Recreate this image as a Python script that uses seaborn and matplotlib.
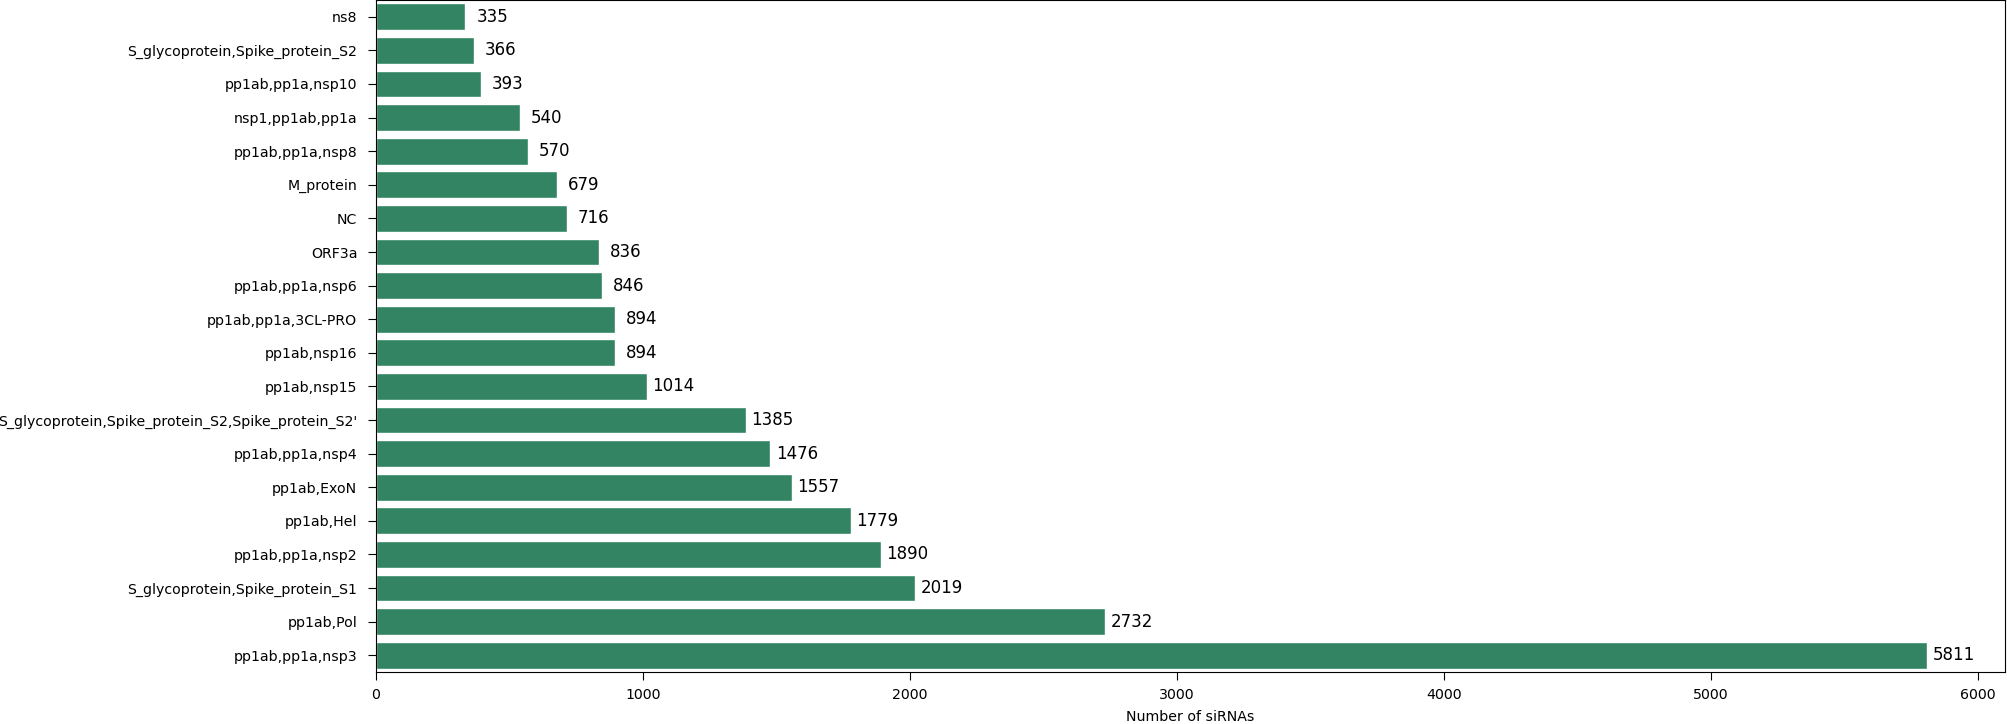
import pandas as pd
import matplotlib
matplotlib.use("Agg")
import matplotlib.pyplot as plt
import seaborn as sns

# Data (top to bottom)
proteins = [
    "ns8",
    "S_glycoprotein,Spike_protein_S2",
    "pp1ab,pp1a,nsp10",
    "nsp1,pp1ab,pp1a",
    "pp1ab,pp1a,nsp8",
    "M_protein",
    "NC",
    "ORF3a",
    "pp1ab,pp1a,nsp6",
    "pp1ab,pp1a,3CL-PRO",
    "pp1ab,nsp16",
    "pp1ab,nsp15",
    "S_glycoprotein,Spike_protein_S2,Spike_protein_S2'",
    "pp1ab,pp1a,nsp4",
    "pp1ab,ExoN",
    "pp1ab,Hel",
    "pp1ab,pp1a,nsp2",
    "S_glycoprotein,Spike_protein_S1",
    "pp1ab,Pol",
    "pp1ab,pp1a,nsp3",
]
counts = [335, 366, 393, 540, 570, 679, 716, 836, 846, 894,
          894, 1014, 1385, 1476, 1557, 1779, 1890, 2019, 2732, 5811]

df = pd.DataFrame({"protein": proteins, "count": counts})

fig = plt.figure(figsize=(20.07, 7.24), dpi=100)
ax = fig.add_axes([376 / 2007, 52 / 724, (2005 - 376) / 2007, 672 / 724])

sns.barplot(data=df, y="protein", x="count", color="#338462",
            saturation=1, edgecolor="white", linewidth=1, ax=ax)

for i, v in enumerate(df["count"]):
    ax.text(v + 100, i, str(v), ha="center", va="center", fontsize=12)

ax.set_ylabel("")
ax.set_xlabel("Number of siRNAs", fontsize=10.2, labelpad=6)
ax.tick_params(axis="both", labelsize=10.2, length=5.5)
ax.tick_params(axis="y", pad=8)
ax.tick_params(axis="x", pad=6)

fig.savefig("out.png", dpi=100)
